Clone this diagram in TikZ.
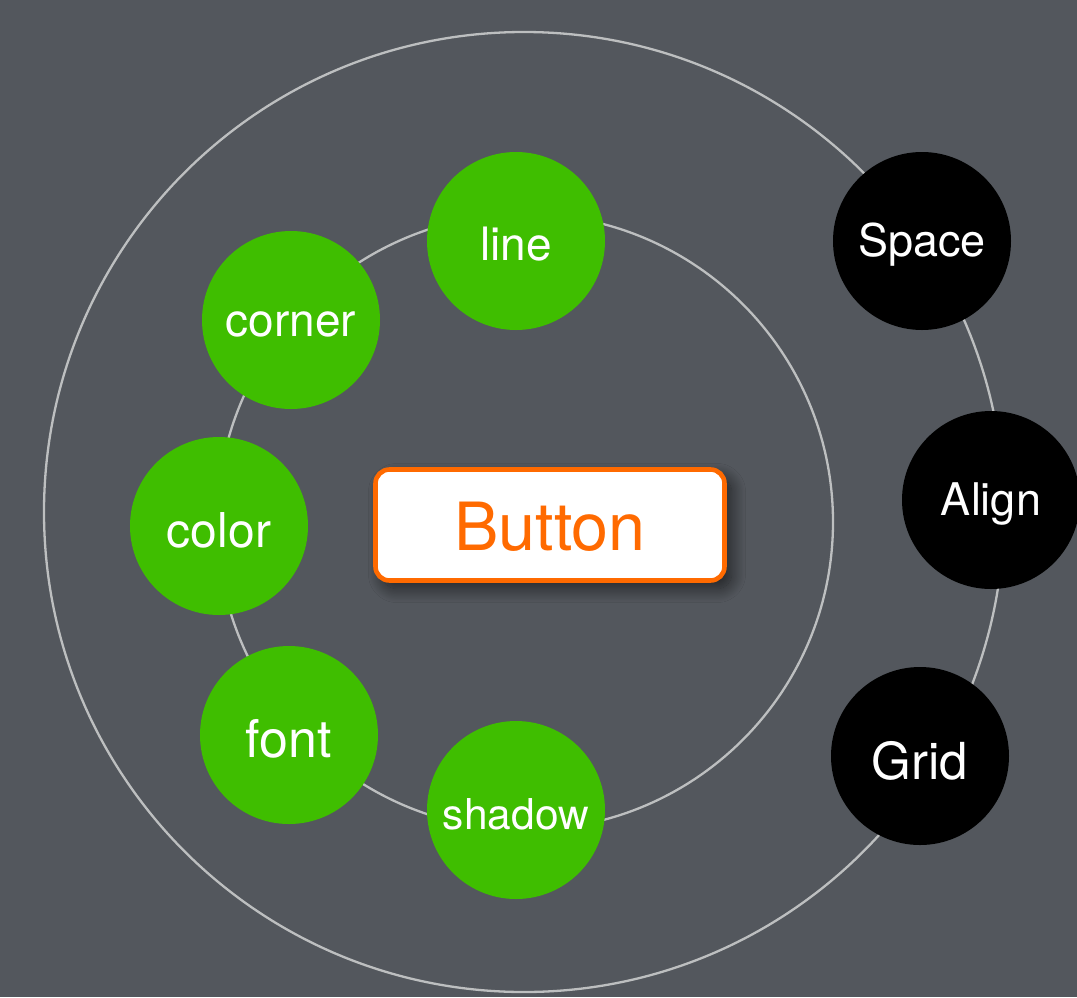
\documentclass[tikz,border=0pt]{standalone}
\usepackage{fontspec}
\setmainfont{TeX Gyre Heros}
\usetikzlibrary{shadows.blur}
\definecolor{bg}{HTML}{53575D}
\definecolor{ring}{HTML}{BDBFC0}
\definecolor{leaf}{HTML}{3FBE00}
\definecolor{btn}{HTML}{FF6A00}
\newcommand{\lowtxt}[2][4pt]{\raisebox{-#1}[\height][\depth]{#2}}
\begin{document}
\begin{tikzpicture}[x=1pt,y=-1pt,
  ringline/.style={draw=ring, line width=2.3pt},
  ball/.style={circle, minimum size=178pt, inner sep=0pt, text=white},
  greenball/.style={ball, fill=leaf},
  blackball/.style={ball, fill=black},
  fs/.style={font=\fontsize{#1}{#1}\selectfont}]
\fill[bg] (0,0) rectangle (1077,997);
\useasboundingbox (0,0) rectangle (1077,997);
\coordinate (oc) at (524,512);
\coordinate (ic) at (525,522);
\draw[ringline] (oc) circle[radius=480pt];
\draw[ringline] (ic) circle[radius=308pt];
\node[greenball, fs=46] (line) at (516,241) {\lowtxt[3pt]{line}};
\node[greenball, fs=46] (corner) at (291,320) {\lowtxt{corner}};
\node[greenball, fs=48] (color) at (219,526) {\lowtxt{color}};
\node[greenball, fs=52] (fontn) at (289,735) {\lowtxt{font}};
\node[greenball, fs=42.5] (shadow) at (516,810) {\lowtxt{shadow}};
\node[blackball, fs=45] (space) at (922,241) {\lowtxt{Space}};
\node[blackball, fs=45] (align) at (991,500) {\lowtxt{Align}};
\node[blackball, fs=51] (grid) at (920,756) {\lowtxt[5pt]{Grid}};
\node[draw=btn, line width=4.6pt, fill=white, rounded corners=14pt,
  minimum width=349pt, minimum height=111pt, text=btn, fs=66.5,
  blur shadow={shadow xshift=7pt, shadow yshift=-8pt, shadow blur radius=14pt,
    shadow blur steps=24, shadow opacity=60}]
  (button) at (550,525) {\lowtxt[2pt]{Button}};
\end{tikzpicture}
\end{document}
